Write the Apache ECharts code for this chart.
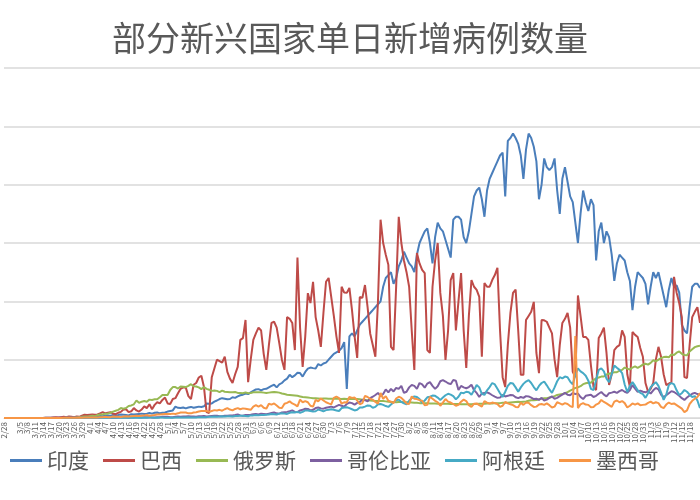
<!DOCTYPE html>
<html>
<head>
<meta charset="utf-8">
<title>部分新兴国家单日新增病例数量</title>
<script src="https://cdn.jsdelivr.net/npm/echarts@6/dist/echarts.min.js"></script>
<style>
html, body { margin: 0; padding: 0; background: #fff; }
#chart { width: 700px; height: 500px; }
</style>
</head>
<body>
<div id="chart"></div>
<script>
// daily new cases, thousands, 2/28 .. 11/23 (one month per row)
var india = [].concat(
	[0,0,0,0,0,0,0.01,0.01,0.02,0.01,0.02,0.02,0.03,0.03,0.02,0.02,0.05,0.05,0.07,0.05,0.1,0.06,0.08,0.1,0.1,0.1,0.1,0.2,0.1,0.2,0.1,0.2,0.4],
	[0.4,0.5,0.6,0.5,0.7,0.6,0.8,0.9,0.8,1.0,0.9,1.0,1.2,1.1,1.0,0.9,1.3,1.2,1.3,1.4,1.5,1.4,1.5,1.7,1.5,1.8,1.9,1.6,1.8,1.9],
	[2.2,2.4,2.6,3.9,3.5,3.4,3.6,3.3,3.6,3.8,3.5,3.7,3.9,3.8,4.0,5.0,4.9,5.0,5.6,6.0,6.5,6.8,6.6,6.4,6.5,7.1,6.9,7.4,7.8,8.0,8.4],
	[8.2,8.8,9.3,9.8,9.9,9.5,9.9,10.0,10.5,11.0,11.4,10.5,11.5,12.0,12.9,13.5,14.8,14.0,14.6,15.5,15.4,14.2,15.8,16.9,17.3,17.1,17.0,18.5,18.0,18.7],
	[19,20,21,22,22.5,23,24,26,10,28,29,28,30,32,33,34,35,36,37,38,39,40,45,48,49,50,46,48,52,54,57],
	[55,53,52,50,56,60,62,64,65,60,53,62,67,65,64,61,58,55,68,69,69,68,62,60,64,70,76,78,79,75,69],
	[78,82,84,86,88,90,91,76,95,96,97.5,96,94,90,82,92,97.5,96,93,88,75,80,89,86,85,86,89,78,70,82],
	[86,81,76,74,67,60,70,78,74,71,75,73,54,64,67,60,64,62,56,47,53,56,55,54,50,47,37,45,50,49,48],
	[46,39,45,50,48,50,46,42,38,44,48,45,45.5,43,32,30,29,38,45,46,46,44.6]
);
var brazil = [].concat(
	[0,0,0,0,0,0,0,0,0,0,0,0,0,0,0,0,0.05,0.1,0.1,0.2,0.3,0.2,0.3,0.4,0.3,0.5,0.4,0.3,0.5,0.4,0.8,1.1,1.0],
	[1.1,1.2,1.1,1.2,1.6,2.0,1.6,1.8,2.0,1.5,1.3,1.8,2.1,2.9,3.0,2.0,2.3,3.4,2.6,2.2,2.9,4.0,3.4,4.7,3.0,4.5,5.4,5.0,6.2,7.0],
	[5.0,4.8,6.5,6.8,8.5,10,10.5,10.4,7.5,6.5,11.4,12,13.9,14.5,10.6,2.0,1.7,14,17,20,19.5,19,21,15.8,13.5,12,15,17.5,26.8,27.4,33.6],
	[12.3,20,26.8,29,31,30,22,16.5,25,32.6,33,31,25.7,20,16.5,34.6,34,32.6,23.3,55,31,17.5,28,42.8,39.4,46.7,34.6,30,24.4,36],
	[46.7,48,41.5,35,28,22.3,45,43,42.9,44.6,37,28,20.6,41.5,41.2,45.6,38,29,25,21,40,68,60,56,52.5,24.4,23.3,45,69,60,54],
	[50,45,30,16.5,56.6,53,50.8,49.7,23.3,22.3,45,54,60,42.9,35,19.9,30,47.3,49.7,30,40,49.7,30,17.2,35,47.3,45,43.9,41.5,21,46.3],
	[45,45,47.3,49,51.5,30,14,10.6,25,36,42.9,44,30,14.8,14.8,33.6,35,36.4,39.8,22.3,15.4,33.6,33.5,33,31,29,20,14,25,32.6],
	[34,36,31,15.8,14,42,35,27.8,27.8,26.8,18,10.6,9.6,27.4,29,31,22.3,11.3,15,23.3,24.4,25,30,27.8,15,10.6,29.5,28.5,27.8,24,21],
	[12,9,10,12,20,24.4,21,15,11.3,11.8,12.3,48.4,42.9,39.4,34.6,14,13.7,25,34.6,36.4,38,32.6]
);
var russia = [].concat(
	[0,0,0,0,0,0,0,0,0,0,0,0,0,0,0,0,0,0,0,0,0,0,0,0,0,0,0,0,0.2,0.3,0.4,0.5,0.5],
	[0.6,0.8,0.6,1.0,1.2,1.2,1.5,1.5,1.8,2.2,2.5,2.8,3.4,3.2,3.4,4.1,4.3,4.7,6.0,5.2,5.6,5.8,5.6,6.3,6.2,6.4,6.4,7.1,7.9,7.9],
	[7.9,9.6,10.6,10.6,10.1,10.8,10.7,10.6,11.0,11.6,10.9,10.8,10.5,9.9,10.6,10.0,9.7,9.3,9.4,9.3,8.9,9.4,9.0,8.9,8.8,8.8,8.9,8.6,8.6,8.5,8.8],
	[8.5,8.6,8.8,8.8,8.8,8.8,8.7,8.6,8.7,8.8,8.9,8.8,8.7,8.4,8.2,8.0,7.9,7.8,7.7,7.6,7.4,7.2,7.1,7.0,6.9,6.8,6.8,6.7,6.6,6.7],
	[6.7,6.6,6.6,6.6,6.6,6.6,6.5,6.6,6.5,6.6,6.5,6.6,6.5,6.4,6.3,6.2,6.1,6.0,5.9,5.8,5.8,5.8,5.8,5.7,5.6,5.5,5.5,5.4,5.5,5.5,5.4],
	[5.4,5.4,5.3,5.2,5.2,5.1,5.1,5.1,5.1,5.0,5.0,5.0,4.9,4.9,4.9,4.9,4.9,4.8,4.8,4.8,4.8,4.7,4.7,4.7,4.7,4.7,4.8,4.8,4.9,4.9,4.9],
	[5.0,5.0,5.0,5.1,5.1,5.1,5.2,5.2,5.2,5.3,5.4,5.5,5.6,5.5,5.6,5.7,5.9,6.1,6.1,6.2,6.4,6.6,6.8,6.8,7.0,7.2,7.5,7.9,8.1,8.2],
	[8.5,8.9,9.4,9.8,10.3,10.5,10.9,11.6,11.9,12.1,12.1,13.0,13.6,13.9,14.2,14.2,14.9,15.2,15.4,15.7,15.7,16.2,16.5,17.3,16.9,16.6,17.3,17.7,17.2,17.7,18.3],
	[18.6,18.3,18.9,19.8,19.4,20.0,20.5,20.9,21.0,20.8,21.8,21.6,22.4,22.8,22.0,21.6,21.5,22.8,23.6,24.3,24.6,24.8]
);
var colombia = [].concat(
	[0,0,0,0,0,0,0,0,0,0,0,0,0,0,0,0,0.01,0.02,0.03,0.05,0.03,0.06,0.05,0.1,0.07,0.1,0.1,0.1,0.08,0.1,0.1,0.1,0.1],
	[0.1,0.1,0.1,0.1,0.1,0.15,0.2,0.15,0.1,0.1,0.1,0.15,0.2,0.2,0.2,0.1,0.15,0.2,0.3,0.2,0.2,0.3,0.3,0.3,0.2,0.2,0.3,0.3,0.4,0.4],
	[0.4,0.3,0.3,0.4,0.5,0.4,0.5,0.5,0.6,0.5,0.5,0.4,0.6,0.6,0.7,0.5,0.6,0.7,0.8,0.8,0.6,0.6,0.8,0.8,0.9,0.9,1.0,1.2,0.9,0.8,1.0],
	[1.0,1.1,1.3,1.4,1.2,1.5,1.4,1.3,1.5,1.7,1.9,1.6,1.5,1.9,2.0,2.1,2.3,2.6,2.1,2.0,2.6,2.8,3.2,3.1,2.6,2.8,3.4,3.6,3.3,3.2],
	[3.5,3.7,3.9,3.6,4.1,4.5,4.2,3.9,4.8,5.3,5.1,4.6,5.2,5.5,6.3,6.1,5.7,6.8,7.3,7.9,8.6,7.5,8.2,9.8,8.8,10.0,9.1,10.3,10.0,11.0,8.6],
	[9.0,10.5,11.3,11.0,10.0,12.0,11.5,10.4,11.8,12.3,11.0,10.0,10.9,12.6,13.0,12.5,11.9,11.6,13.0,12.8,9.6,11.0,10.5,10.2,10.6,11.4,9.5,8.6,7.2,8.4,8.6],
	[8.8,8.4,7.8,7.3,6.9,7.0,7.9,7.4,7.6,7.9,7.8,7.1,6.8,7.2,6.9,7.5,7.4,7.0,6.5,6.6,6.2,6.9,6.0,6.3,6.9,7.4,6.6,6.9,7.5,8.0],
	[8.6,8.0,7.8,8.6,8.2,8.4,7.2,6.5,7.6,7.8,8.0,7.2,7.6,8.3,8.9,8.0,7.4,8.5,8.7,9.0,8.6,9.2,9.6,9.0,8.6,9.6,11.3,10.1,9.0,9.4,9.0],
	[8.8,9.2,8.4,9.5,10.3,9.8,8.0,7.2,7.8,8.5,9.2,8.9,8.3,7.6,6.8,6.2,7.0,7.7,8.3,8.6,8.2,8.0]
);
var argentina = [].concat(
	[0,0,0,0,0,0,0,0,0,0,0,0,0,0,0,0,0,0,0,0,0.01,0.02,0.02,0.03,0.05,0.06,0.08,0.1,0.05,0.1,0.1,0.08,0.1],
	[0.1,0.1,0.1,0.1,0.1,0.1,0.1,0.1,0.1,0.1,0.1,0.1,0.1,0.1,0.1,0.1,0.1,0.1,0.1,0.1,0.1,0.15,0.1,0.15,0.15,0.1,0.1,0.15,0.15,0.1],
	[0.1,0.1,0.1,0.15,0.2,0.2,0.2,0.2,0.25,0.2,0.2,0.2,0.3,0.3,0.3,0.3,0.4,0.4,0.5,0.4,0.5,0.6,0.5,0.6,0.6,0.5,0.7,0.7,0.8,0.8,0.7],
	[0.6,0.9,0.9,1.0,0.9,1.0,1.0,1.1,1.2,1.4,1.3,1.2,1.5,1.6,1.5,1.4,1.8,2.0,1.9,2.1,1.8,2.1,2.6,2.6,2.4,2.2,2.3,2.9,2.6,2.3],
	[2.7,2.8,3.0,2.8,2.6,2.4,3.4,3.6,3.7,3.4,3.0,2.6,2.8,3.6,3.6,3.9,4.3,4.2,3.5,3.8,4.7,4.8,4.5,4.1,3.8,4.6,5.3,6.1,6.3,5.5,5.0],
	[4.7,5.9,6.8,7.4,7.2,6.5,5.2,6.0,7.1,7.3,7.7,7.6,7.0,6.2,7.0,7.8,8.3,8.0,7.5,6.4,7.3,8.7,8.5,9.0,8.8,8.0,9.5,11.3,10.5,8.3,7.9],
	[9.5,10.6,12.0,11.5,10.0,8.5,7.2,9.0,11.0,12.0,11.8,10.5,9.0,10.5,11.7,12.5,13.0,12.0,10.6,9.5,11.0,12.0,12.5,11.2,9.8,8.6,10.5,12.6,14.0,13.6],
	[14.2,14.0,12.5,11.5,14.8,17.0,16.0,15.4,14.5,12.8,10.0,9.6,13.0,16.5,17.0,16.0,13.5,12.3,15.0,18.0,17.2,16.5,15.4,11.5,8.9,11.0,12.3,11.0,9.5,8.6,8.2],
	[6.9,8.5,10.6,11.5,12.3,11.0,8.8,6.2,8.0,11.3,12.0,11.5,9.5,7.9,8.5,9.6,9.0,8.0,7.2,7.5,6.0,3.4]
);
var mexico = [].concat(
	[0,0,0,0,0,0,0,0,0,0,0,0,0,0,0,0,0,0,0.01,0.01,0.02,0.03,0.04,0.05,0.06,0.08,0.1,0.1,0.1,0.15,0.1,0.2,0.15],
	[0.2,0.2,0.2,0.2,0.3,0.3,0.4,0.3,0.3,0.5,0.4,0.4,0.3,0.5,0.6,0.5,0.6,0.7,0.8,0.7,0.8,0.9,1.0,0.8,0.9,1.0,1.2,1.2,1.3,1.4],
	[1.4,1.4,1.5,1.4,1.6,1.9,1.9,1.9,1.6,1.6,1.9,2.0,2.2,2.4,2.4,2.4,2.1,2.4,2.7,2.6,2.8,2.5,3.0,3.4,2.9,2.6,3.1,3.4,3.0,3.3,3.2],
	[3.0,2.8,3.9,4.4,3.9,4.4,3.5,3.2,4.9,4.6,5.0,4.3,3.5,3.4,4.9,5.2,5.7,5.0,4.6,4.0,6.3,5.4,5.8,5.4,4.2,3.9,6.2,5.7,6.7,6.0],
	[5.4,5.0,4.7,6.9,7.3,6.8,4.9,5.4,5.3,7.2,6.9,7.0,6.0,4.7,5.1,7.6,7.2,6.6,6.3,5.5,4.9,8.6,6.6,7.5,5.9,5.6,5.1,6.7,7.3,6.9,6.0],
	[5.0,4.8,7.4,6.6,6.5,6.1,5.9,4.4,4.5,7.3,6.6,5.9,5.4,4.2,5.3,6.5,5.6,5.3,4.8,4.2,4.5,5.6,6.3,5.8,4.4,3.8,4.9,5.0,4.4,3.9,5.8],
	[5.3,4.9,5.3,5.1,4.8,3.8,4.2,5.5,5.0,4.7,4.4,3.8,3.7,5.2,4.5,5.3,5.2,4.4,3.8,3.9,4.6,4.8,4.5,5.0,4.4,3.6,3.9,5.4,5.0,4.6],
	[5.1,4.8,4.1,3.7,28.1,3.4,4.7,5.1,4.6,4.5,3.7,3.8,4.6,5.0,6.2,5.5,5.0,4.4,3.8,5.6,6.0,5.4,5.8,5.1,3.6,4.2,5.0,4.6,5.0,4.4,4.5],
	[4.6,5.2,5.6,5.0,5.4,5.1,3.8,3.4,4.6,5.3,4.8,5.0,4.4,3.8,3.2,2.0,2.6,4.8,5.9,6.6,7.2,8.6]
);

var names = ['印度', '巴西', '俄罗斯', '哥伦比亚', '阿根廷', '墨西哥'];
var colors = ['#4a7ebb', '#be4b48', '#98b954', '#7d60a0', '#46aac5', '#f79646'];
var all = [india, brazil, russia, colombia, argentina, mexico];

// date labels m/d from 2/28 (2020)
var dates = [];
var n = Math.max.apply(null, all.map(function (a) { return a.length; }));
for (var i = 0; i < n; ++i) {
	var d = new Date(2020, 1, 28 + i);
	dates.push((d.getMonth() + 1) + '/' + d.getDate());
}

var chart = echarts.init(document.getElementById('chart'));

var series = [];
for (var k = 0; k < all.length; ++k) {
	series.push({
		name: names[k],
		type: 'line',
		showSymbol: false,
		data: all[k].map(function (v) { return v * 1000; }),
		lineStyle: { width: 2, color: colors[k] },
		itemStyle: { color: colors[k] }
	});
}

chart.setOption({
	animation: false,
	textStyle: { fontFamily: 'Noto Sans CJK SC' },
	title: {
		text: '部分新兴国家单日新增病例数量',
		left: 'center',
		top: 16,
		textStyle: { fontSize: 34, fontWeight: 'normal', color: '#595959', fontFamily: 'Noto Sans CJK SC' }
	},
	legend: {
		top: 450,
		left: 10,
		width: 690,
		padding: 0,
		icon: 'rect',
		itemWidth: 32,
		itemHeight: 3,
		itemGap: 14,
		textStyle: { fontSize: 21, color: '#595959' },
		data: names
	},
	grid: { left: 4, right: 0, top: 68, bottom: 82 },
	xAxis: {
		type: 'category',
		boundaryGap: false,
		data: dates,
		axisLine: { lineStyle: { color: '#d9d9d9' } },
		axisTick: { show: false },
		axisLabel: { interval: 2, showMinLabel: true, rotate: 90, fontSize: 8, color: '#595959', margin: 4 }
	},
	yAxis: {
		type: 'value',
		min: 0,
		max: 120000,
		interval: 20000,
		axisLabel: { show: false },
		axisLine: { show: false },
		axisTick: { show: false },
		splitLine: { lineStyle: { color: '#d9d9d9', width: 1.5 } }
	},
	series: series
});
</script>
</body>
</html>
